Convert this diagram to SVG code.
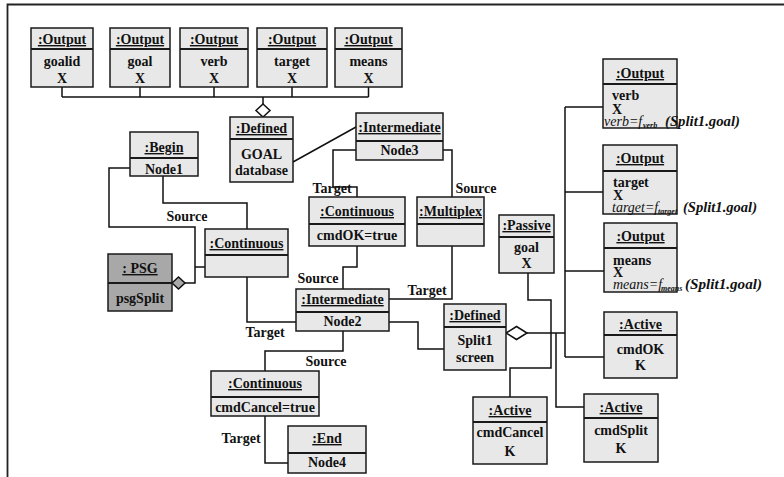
<svg xmlns="http://www.w3.org/2000/svg" width="784" height="477" viewBox="0 0 784 477">
<style>
.b{fill:#e8e8e8;stroke:#1a1a1a;stroke-width:1.5}
.p{fill:#a8a8a8;stroke:#1a1a1a;stroke-width:1.5}
.s{stroke:#1a1a1a;stroke-width:2}
.t{font-family:"Liberation Serif","Times New Roman",serif;font-weight:bold;font-size:14px;fill:#111;text-anchor:middle}
.l{text-anchor:start}
.u{text-decoration:underline}
.ln{fill:none;stroke:#111;stroke-width:1.5}
.dm{fill:#fff;stroke:#111;stroke-width:1.5}
.dp{fill:#a8a8a8;stroke:#111;stroke-width:1.5}
.i{font-family:"Liberation Serif","Times New Roman",serif;font-style:italic;font-size:14px;fill:#111}
.bi{font-family:"Liberation Serif","Times New Roman",serif;font-style:italic;font-weight:bold;font-size:14px;fill:#111}
.sub{font-family:"Liberation Serif","Times New Roman",serif;font-style:italic;font-weight:bold;font-size:8px;fill:#111}
</style>
<path d="M7.5,477 V4.5 H784" fill="none" stroke="#222" stroke-width="1.8"/>

<g id="connectors">
<path class="ln" d="M62,87 V97 M140,87 V97 M214,87 V97 M292,87 V97 M368.5,87 V97 M62,97 H368.5 M263,97 V104"/>
<polygon class="dm" points="263,104 270,110.5 263,117 256,110.5"/>
<path class="ln" d="M293,162 L356,127"/>
<path class="ln" d="M130,168 H109 V227 H195 V283 H185 M195,267 H205"/>
<polygon class="dp" points="172,283 178.5,277 185,283 178.5,289"/>
<path class="ln" d="M163,176 V203 H247 V229"/>
<path class="ln" d="M247,277 V322 H296"/>
<path class="ln" d="M356,150 H333 V187 H357 V197"/>
<path class="ln" d="M443,150 H452 V197"/>
<path class="ln" d="M357,246 V267 H343 V289"/>
<path class="ln" d="M452,246 V299 H389"/>
<path class="ln" d="M389,322 H418 V349 H444"/>
<path class="ln" d="M343,331 V351 H265 V371"/>
<path class="ln" d="M265,416 V463 H288"/>
<polygon class="dm" points="506,333 516.5,326.5 527,333 516.5,339.5"/>
<path class="ln" d="M527,333 H565" stroke-width="2"/>
<path class="ln" d="M565,107 V357 M565,107 H603 M565,192 H603 M565,271 H604 M565,357 H604" stroke-width="1.7"/>
<path class="ln" d="M528,273 V300 H551 V368 H510 V397"/>
<path class="ln" d="M556,333 V407 H584"/>
<text class="t" x="187" y="221">Source</text>
<text class="t" x="265" y="337">Target</text>
<text class="t" x="332" y="193">Target</text>
<text class="t" x="476" y="193">Source</text>
<text class="t" x="318" y="283">Source</text>
<text class="t" x="427" y="295">Target</text>
<text class="t" x="326" y="366">Source</text>
<text class="t" x="241" y="443">Target</text>
</g>

<g id="out_goalid"><rect class="b" x="31" y="28" width="62" height="59"/><line class="s" x1="31" y1="49" x2="93" y2="49"/><text class="t u" x="62" y="44">:Output</text><text class="t" x="62" y="66">goalid</text><text class="t" x="62" y="83">X</text></g>
<g id="out_goal"><rect class="b" x="110" y="28" width="60" height="59"/><line class="s" x1="110" y1="49" x2="170" y2="49"/><text class="t u" x="140" y="44">:Output</text><text class="t" x="140" y="66">goal</text><text class="t" x="140" y="83">X</text></g>
<g id="out_verb"><rect class="b" x="180" y="28" width="68" height="59"/><line class="s" x1="180" y1="49" x2="248" y2="49"/><text class="t u" x="214" y="44">:Output</text><text class="t" x="214" y="66">verb</text><text class="t" x="214" y="83">X</text></g>
<g id="out_target"><rect class="b" x="257" y="28" width="70" height="59"/><line class="s" x1="257" y1="49" x2="327" y2="49"/><text class="t u" x="292" y="44">:Output</text><text class="t" x="292" y="66">target</text><text class="t" x="292" y="83">X</text></g>
<g id="out_means"><rect class="b" x="335" y="28" width="67" height="59"/><line class="s" x1="335" y1="49" x2="402" y2="49"/><text class="t u" x="368.5" y="44">:Output</text><text class="t" x="368.5" y="66">means</text><text class="t" x="368.5" y="83">X</text></g>

<g id="def_goal"><rect class="b" x="230" y="117" width="63" height="65"/><line class="s" x1="230" y1="139" x2="293" y2="139"/><text class="t u" x="261.5" y="133">:Defined</text><text class="t" x="261.5" y="159">GOAL</text><text class="t" x="261.5" y="175">database</text></g>
<g id="begin"><rect class="b" x="130" y="132" width="68" height="44"/><line class="s" x1="130" y1="158" x2="198" y2="158"/><text class="t u" x="164" y="152">:Begin</text><text class="t" x="164" y="174">Node1</text></g>
<g id="node3"><rect class="b" x="356" y="113" width="87" height="47"/><line class="s" x1="356" y1="141" x2="443" y2="141"/><text class="t u" x="399.5" y="132">:Intermediate</text><text class="t" x="399.5" y="155">Node3</text></g>
<g id="cont1"><rect class="b" x="205" y="229" width="83" height="48"/><line class="s" x1="205" y1="255" x2="288" y2="255"/><text class="t u" x="246.5" y="248">:Continuous</text></g>
<g id="psg"><rect class="p" x="108" y="254" width="64" height="57"/><line class="s" x1="108" y1="283" x2="172" y2="283"/><text class="t u" x="140" y="273">: PSG</text><text class="t" x="140" y="303">psgSplit</text></g>
<g id="cont_ok"><rect class="b" x="309" y="197" width="96" height="49"/><line class="s" x1="309" y1="224" x2="405" y2="224"/><text class="t u" x="357" y="216">:Continuous</text><text class="t" x="357" y="240">cmdOK=true</text></g>
<g id="multiplex"><rect class="b" x="417" y="197" width="67" height="49"/><line class="s" x1="417" y1="224" x2="484" y2="224"/><text class="t u" x="450.5" y="216">:Multiplex</text></g>
<g id="node2"><rect class="b" x="296" y="289" width="93" height="42"/><line class="s" x1="296" y1="312" x2="389" y2="312"/><text class="t u" x="342.5" y="304">:Intermediate</text><text class="t" x="342.5" y="326">Node2</text></g>
<g id="def_split1"><rect class="b" x="444" y="304" width="62" height="66"/><line class="s" x1="444" y1="327" x2="506" y2="327"/><text class="t u" x="475" y="320">:Defined</text><text class="t" x="475" y="345">Split1</text><text class="t" x="475" y="362">screen</text></g>
<g id="cont_cancel"><rect class="b" x="211" y="371" width="108" height="45"/><line class="s" x1="211" y1="397" x2="319" y2="397"/><text class="t u" x="265" y="388">:Continuous</text><text class="t" x="265" y="412">cmdCancel=true</text></g>
<g id="end"><rect class="b" x="288" y="426" width="78" height="47"/><line class="s" x1="288" y1="453" x2="366" y2="453"/><text class="t u" x="327" y="443">:End</text><text class="t" x="327" y="467">Node4</text></g>
<g id="passive"><rect class="b" x="499" y="215" width="55" height="58"/><line class="s" x1="499" y1="237" x2="554" y2="237"/><text class="t u" x="526.5" y="230">:Passive</text><text class="t" x="526.5" y="252">goal</text><text class="t" x="526.5" y="268">X</text></g>

<g id="out2_verb"><rect class="b" x="603" y="59" width="74" height="69"/><line class="s" x1="603" y1="84" x2="677" y2="84"/><text class="t u" x="640" y="78">:Output</text><text class="t l" x="612" y="100">verb</text><text class="t l" x="612" y="114">X</text><text class="i" x="604" y="126">verb=f</text><text class="sub" x="643" y="128">verb</text><text class="bi" x="665" y="126" textLength="75" lengthAdjust="spacingAndGlyphs">(Split1.goal)</text></g>
<g id="out2_target"><rect class="b" x="603" y="145" width="74" height="69"/><line class="s" x1="603" y1="171" x2="677" y2="171"/><text class="t u" x="640" y="163">:Output</text><text class="t l" x="613" y="187">target</text><text class="t l" x="613" y="200">X</text><text class="i" x="612" y="212">target=f</text><text class="sub" x="658" y="214">target</text><text class="bi" x="683" y="212" textLength="74" lengthAdjust="spacingAndGlyphs">(Split1.goal)</text></g>
<g id="out2_means"><rect class="b" x="604" y="223" width="73" height="69"/><line class="s" x1="604" y1="248" x2="677" y2="248"/><text class="t u" x="640.5" y="241">:Output</text><text class="t l" x="613" y="265">means</text><text class="t l" x="613" y="277">X</text><text class="i" x="613" y="289">means=f</text><text class="sub" x="661" y="291">means</text><text class="bi" x="685" y="289" textLength="77" lengthAdjust="spacingAndGlyphs">(Split1.goal)</text></g>
<g id="act_ok"><rect class="b" x="604" y="312" width="73" height="66"/><line class="s" x1="604" y1="335" x2="677" y2="335"/><text class="t u" x="640.5" y="329">:Active</text><text class="t" x="640.5" y="354">cmdOK</text><text class="t" x="640.5" y="370">K</text></g>
<g id="act_cancel"><rect class="b" x="473" y="397" width="74" height="67"/><line class="s" x1="473" y1="422" x2="547" y2="422"/><text class="t u" x="510" y="415">:Active</text><text class="t" x="510" y="437">cmdCancel</text><text class="t" x="510" y="456">K</text></g>
<g id="act_split"><rect class="b" x="584" y="394" width="74" height="68"/><line class="s" x1="584" y1="418" x2="658" y2="418"/><text class="t u" x="621" y="412">:Active</text><text class="t" x="621" y="435">cmdSplit</text><text class="t" x="621" y="453">K</text></g>
</svg>
